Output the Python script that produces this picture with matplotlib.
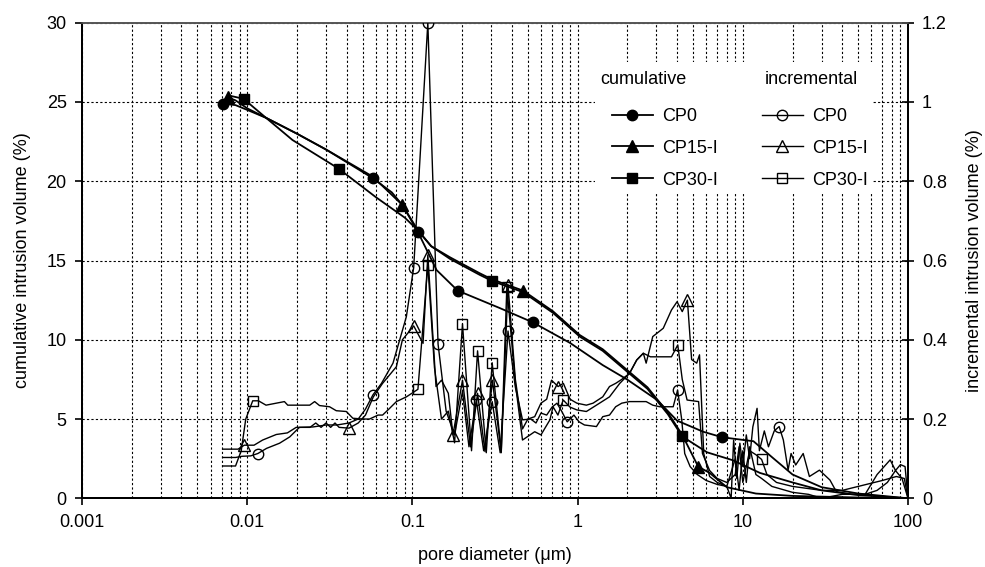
import numpy as np
import matplotlib
matplotlib.use('Agg')
import matplotlib.pyplot as plt
from matplotlib.patches import Rectangle
from matplotlib.ticker import FixedLocator, FuncFormatter, NullFormatter, LogLocator

plt.rcParams['font.family'] = ['Liberation Sans', 'DejaVu Sans']

# cumulative intrusion volume (%) : (pore diameter um, value)
cp0_cum = np.array([(0.0071, 24.9), (0.0085, 24.8), (0.01, 24.5), (0.013, 24.0), (0.02, 23.0),
                    (0.03, 22.0), (0.0574, 20.2), (0.075, 19.3), (0.087, 18.5), (0.108, 16.8),
                    (0.14, 14.4), (0.188, 13.1), (0.338, 12.0), (0.535, 11.1), (0.9, 9.8),
                    (1.42, 8.4), (1.99, 7.5), (3.03, 6.2), (4.0, 4.9), (5.75, 4.2), (7.5, 3.85),
                    (11.6, 3.6), (15, 2.6), (20, 1.5), (30, 0.7), (50, 0.3), (100, 0.0)])
cp15_cum = np.array([(0.0076, 25.3), (0.0085, 25.1), (0.01, 24.6), (0.013, 24.0), (0.02, 23.0),
                     (0.03, 22.0), (0.0574, 20.3), (0.087, 18.5), (0.108, 16.9), (0.13, 15.9),
                     (0.169, 15.2), (0.255, 14.2), (0.305, 13.8), (0.468, 13.1), (0.709, 11.8),
                     (1.03, 10.3), (1.42, 9.4), (1.99, 8.1), (2.65, 7.0), (3.52, 5.4), (4.3, 4.0),
                     (5.37, 2.0), (6.3, 1.6), (8.0, 0.7), (12, 0.3), (20, 0.15), (50, 0.05), (100, 0.0)])
cp30_cum = np.array([(0.0078, 25.4), (0.0095, 25.2), (0.013, 24.0), (0.0188, 22.6), (0.0357, 20.8),
                     (0.06, 19.0), (0.09, 17.7), (0.108, 16.9), (0.13, 15.9), (0.169, 15.1),
                     (0.255, 14.1), (0.305, 13.7), (0.468, 13.0), (0.709, 11.7), (1.03, 10.2),
                     (1.42, 9.3), (1.99, 8.0), (2.65, 6.9), (3.52, 5.3), (4.3, 3.9), (6.08, 2.9),
                     (8.7, 2.4), (12.7, 1.6), (20, 1.0), (30, 0.5), (50, 0.2), (100, 0.0)])

# incremental intrusion volume (%)
cp0_inc = np.array([(0.0071, 0.103), (0.0085, 0.103), (0.0093, 0.106), (0.0105, 0.107), (0.0116, 0.113),
                    (0.0131, 0.126), (0.0157, 0.139), (0.0181, 0.155), (0.0207, 0.179), (0.025, 0.18),
                    (0.03, 0.185), (0.035, 0.185), (0.0413, 0.19), (0.047, 0.2), (0.052, 0.225),
                    (0.0577, 0.261), (0.065, 0.29), (0.0763, 0.341), (0.0919, 0.458), (0.1018, 0.582),
                    (0.124, 1.2), (0.143, 0.389), (0.16, 0.22), (0.18, 0.16), (0.201, 0.27),
                    (0.22, 0.13), (0.244, 0.248), (0.27, 0.12), (0.304, 0.244), (0.34, 0.115),
                    (0.379, 0.422), (0.42, 0.28), (0.464, 0.198), (0.52, 0.2), (0.56, 0.19),
                    (0.6, 0.215), (0.65, 0.21), (0.7, 0.23), (0.75, 0.24), (0.8, 0.22), (0.865, 0.193),
                    (0.95, 0.21), (1.02, 0.193), (1.1, 0.185), (1.3, 0.181), (1.42, 0.206),
                    (1.56, 0.21), (1.7, 0.231), (1.85, 0.24), (2.06, 0.244), (2.3, 0.244),
                    (2.6, 0.244), (2.85, 0.235), (3.14, 0.231), (3.5, 0.231), (3.79, 0.231),
                    (4.03, 0.273), (4.27, 0.198), (4.45, 0.113), (4.8, 0.08), (5.3, 0.06),
                    (6.0, 0.045), (7.0, 0.035), (8.0, 0.03), (8.5, 0.0), (8.8, 0.147), (9.2, 0.05),
                    (9.6, 0.139), (10.0, 0.08), (10.5, 0.16), (11.0, 0.1), (11.5, 0.18), (12.2, 0.227),
                    (12.6, 0.12), (13.5, 0.17), (14.3, 0.13), (15.5, 0.17), (16.6, 0.181),
                    (17.6, 0.147), (18.8, 0.071), (19.6, 0.113), (20.9, 0.084), (23.2, 0.113),
                    (25.3, 0.055), (29.1, 0.071), (33.7, 0.046), (36.8, 0.017), (45, 0.01),
                    (55, 0.01), (65, 0.02), (75, 0.04), (84, 0.07), (92, 0.05), (100, 0.0)])
cp15_inc = np.array([(0.0071, 0.124), (0.0088, 0.124), (0.0096, 0.134), (0.011, 0.134), (0.0124, 0.147),
                     (0.015, 0.161), (0.0175, 0.165), (0.0198, 0.179), (0.024, 0.179), (0.026, 0.19),
                     (0.028, 0.179), (0.03, 0.19), (0.032, 0.179), (0.034, 0.19), (0.036, 0.179),
                     (0.0413, 0.177), (0.047, 0.19), (0.052, 0.21), (0.058, 0.256), (0.066, 0.29),
                     (0.08, 0.332), (0.087, 0.4), (0.1018, 0.435), (0.116, 0.391), (0.124, 0.614),
                     (0.139, 0.282), (0.15, 0.298), (0.165, 0.265), (0.176, 0.16), (0.201, 0.298),
                     (0.225, 0.13), (0.248, 0.265), (0.275, 0.118), (0.305, 0.298), (0.345, 0.115),
                     (0.379, 0.538), (0.42, 0.3), (0.464, 0.175), (0.5, 0.2), (0.55, 0.206),
                     (0.6, 0.24), (0.65, 0.25), (0.695, 0.298), (0.762, 0.282), (0.82, 0.29),
                     (0.9, 0.25), (0.99, 0.24), (1.13, 0.235), (1.24, 0.24), (1.42, 0.256),
                     (1.56, 0.282), (1.7, 0.29), (1.85, 0.3), (2.06, 0.315), (2.28, 0.349),
                     (2.5, 0.366), (2.6, 0.341), (2.85, 0.408), (3.3, 0.429), (3.7, 0.475),
                     (4.0, 0.496), (4.3, 0.471), (4.62, 0.5), (4.9, 0.35), (5.26, 0.341),
                     (5.47, 0.362), (5.8, 0.113), (6.3, 0.055), (7.0, 0.04), (8.0, 0.03), (9.0, 0.1),
                     (9.5, 0.02), (10.0, 0.12), (10.5, 0.04), (11.0, 0.13), (12.0, 0.06), (13.0, 0.05),
                     (15.0, 0.03), (20, 0.015), (25, 0.01), (30, 0.0), (40, 0.01), (55, 0.01),
                     (65, 0.06), (78, 0.097), (84, 0.07), (90, 0.085), (96, 0.08), (100, 0.0)])
cp30_inc = np.array([(0.0071, 0.0815), (0.0085, 0.0815), (0.0092, 0.12), (0.0098, 0.2), (0.0108, 0.246),
                     (0.0117, 0.246), (0.013, 0.235), (0.0168, 0.244), (0.0176, 0.235), (0.0239, 0.235),
                     (0.0256, 0.244), (0.0274, 0.234), (0.0315, 0.231), (0.0346, 0.221), (0.0398, 0.219),
                     (0.0436, 0.202), (0.05, 0.2), (0.055, 0.2), (0.062, 0.21), (0.066, 0.21),
                     (0.072, 0.225), (0.08, 0.244), (0.092, 0.256), (0.108, 0.275), (0.124, 0.589),
                     (0.136, 0.33), (0.15, 0.2), (0.165, 0.22), (0.18, 0.14), (0.201, 0.44),
                     (0.228, 0.12), (0.248, 0.372), (0.28, 0.115), (0.304, 0.342), (0.345, 0.118),
                     (0.373, 0.534), (0.42, 0.29), (0.464, 0.147), (0.55, 0.168), (0.6, 0.16),
                     (0.68, 0.198), (0.71, 0.231), (0.76, 0.21), (0.818, 0.248), (0.9, 0.23),
                     (0.99, 0.223), (1.13, 0.219), (1.3, 0.235), (1.56, 0.256), (1.8, 0.29),
                     (2.06, 0.315), (2.28, 0.349), (2.5, 0.366), (2.76, 0.357), (3.24, 0.357),
                     (3.7, 0.357), (4.04, 0.387), (4.3, 0.3), (4.6, 0.248), (5.4, 0.244), (5.7, 0.113),
                     (6.3, 0.07), (7.0, 0.05), (8.0, 0.04), (9.0, 0.06), (9.5, 0.13), (10.0, 0.04),
                     (11.0, 0.12), (12.0, 0.11), (13.0, 0.098), (14.0, 0.06), (16.0, 0.04), (20, 0.03),
                     (30, 0.02), (40, 0.02), (50, 0.03), (70, 0.045), (85, 0.055), (95, 0.05), (100, 0.0)])

# diameters where the symbols sit
cp0_cum_marks = [0.0071, 0.0574, 0.108, 0.188, 0.535, 7.5]
cp15_cum_marks = [0.0076, 0.087, 0.468, 5.37]
cp30_cum_marks = [0.0095, 0.0357, 0.305, 4.3]
cp0_inc_marks = [0.0116, 0.0577, 0.1018, 0.124, 0.143, 0.244, 0.304, 0.379, 0.865, 4.03, 16.6]
cp15_inc_marks = [0.0096, 0.0413, 0.1018, 0.124, 0.176, 0.201, 0.248, 0.305, 0.379, 0.762, 4.62]
cp30_inc_marks = [0.0108, 0.108, 0.124, 0.201, 0.248, 0.304, 0.373, 0.818, 4.04, 13.0]

labels = ['CP0', 'CP15-I', 'CP30-I']
x_ticks = [0.001, 0.01, 0.1, 1, 10, 100]
y_ticks = [0, 5, 10, 15, 20, 25, 30]
y2_ticks = [0, 0.2, 0.4, 0.6, 0.8, 1.0, 1.2]


def mark_idx(data, marks):
    return [int(np.argmin(np.abs(np.log10(data[:, 0]) - np.log10(m)))) for m in marks]


fig = plt.figure(figsize=(9.85, 5.67), dpi=100)
ax = fig.add_axes([82 / 985, 68.7 / 567, 826 / 985, 475.6 / 567])
ax2 = ax.twinx()

fs = 13
cum = [(cp0_cum, cp0_cum_marks, 'o', 7.5), (cp15_cum, cp15_cum_marks, '^', 8), (cp30_cum, cp30_cum_marks, 's', 7)]
inc = [(cp0_inc, cp0_inc_marks, 'o', 7.5), (cp15_inc, cp15_inc_marks, '^', 8.5), (cp30_inc, cp30_inc_marks, 's', 7.5)]

cum_lines = []
for (d, m, mk, ms), lab in zip(cum, labels):
    l, = ax.plot(d[:, 0], d[:, 1], color='black', lw=1.3, marker=mk, ms=ms,
                 markevery=mark_idx(d, m), mfc='black', mec='black', label=lab, zorder=3)
    cum_lines.append(l)

inc_lines = []
for (d, m, mk, ms), lab in zip(inc, labels):
    l, = ax2.plot(d[:, 0], d[:, 1], color='black', lw=1.0, marker=mk, ms=ms,
                  markevery=mark_idx(d, m), mfc='none', mec='black', mew=1.0, label=lab, zorder=3)
    inc_lines.append(l)

ax.set_xscale('log')
ax.set_xlim(0.001, 100)
ax.set_ylim(0, 30)
ax2.set_ylim(0, 1.2)

ax.xaxis.set_major_locator(FixedLocator(x_ticks))
ax.xaxis.set_major_formatter(FuncFormatter(lambda v, p: f'{v:g}'))
ax.xaxis.set_minor_locator(LogLocator(base=10, subs=np.arange(2, 10)))
ax.xaxis.set_minor_formatter(NullFormatter())
ax.set_yticks(y_ticks)
ax2.set_yticks(y2_ticks)
ax2.yaxis.set_major_formatter(FuncFormatter(lambda v, p: f'{v:g}'))

ax.grid(True, which='both', axis='x', color='black', lw=0.8, linestyle=(0, (2, 2)))
ax.grid(True, which='major', axis='y', color='black', lw=0.8, linestyle=(0, (2, 2)))
ax.set_axisbelow(True)

ax.tick_params(axis='both', which='major', labelsize=fs, direction='out', length=5, width=1.2,
               color='black', pad=6)
ax.tick_params(axis='x', which='minor', length=0)
ax2.tick_params(axis='y', labelsize=fs, direction='inout', length=8, width=1.2, pad=6)

for a in (ax, ax2):
    for side in ('left', 'bottom', 'right'):
        a.spines[side].set_linewidth(1.4)
        a.spines[side].set_color('black')
    a.spines['top'].set_linewidth(1.2)
    a.spines['top'].set_color('#555555')

ax.set_xlabel('pore diameter (\u03bcm)', fontsize=fs, labelpad=12)
ax.set_ylabel('cumulative intrusion volume (%)', fontsize=fs, labelpad=11)
ax2.set_ylabel('incremental intrusion volume (%)', fontsize=fs, labelpad=14)

# white area behind the legend (axes fraction)
ax.add_patch(Rectangle(((595 - 82) / 826, (498.3 - 192) / 475.6), 278 / 826, 130 / 475.6,
                       transform=ax.transAxes, facecolor='white', edgecolor='none', zorder=1))

leg_kw = dict(frameon=False, fontsize=fs, handlelength=2.25, handletextpad=0.55,
              labelspacing=0.82, borderpad=0, borderaxespad=0, loc='upper left',
              bbox_transform=fig.transFigure)
leg1 = ax2.legend(handles=cum_lines, bbox_to_anchor=(612 / 985, 1 - 108 / 567), **leg_kw)
ax2.add_artist(leg1)
leg2 = ax2.legend(handles=inc_lines, bbox_to_anchor=(762 / 985, 1 - 108 / 567), **leg_kw)
fig.text(600 / 985, 1 - 79 / 567, 'cumulative', fontsize=fs, va='center', ha='left')
fig.text(765 / 985, 1 - 79 / 567, 'incremental', fontsize=fs, va='center', ha='left')

fig.savefig('out.png', dpi=100)
